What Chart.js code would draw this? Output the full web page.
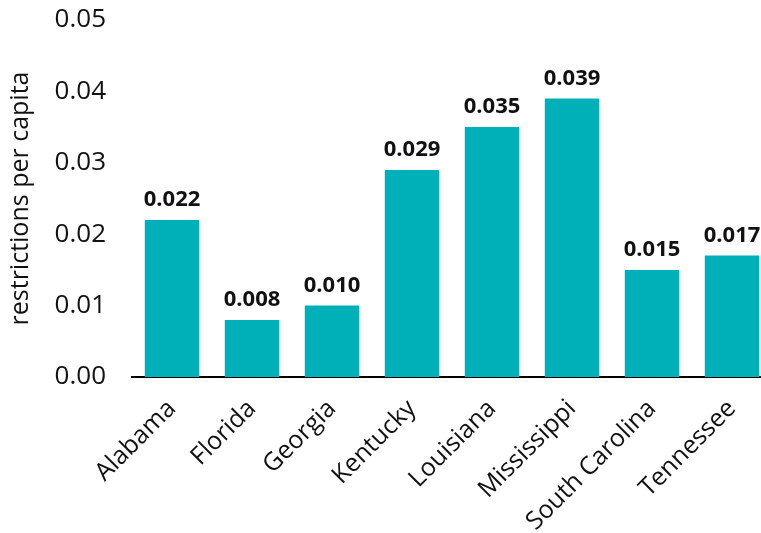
<!DOCTYPE html>
<html>
<head>
<meta charset="utf-8">
<script src="https://cdn.jsdelivr.net/npm/chart.js@4"></script>
<style>
  html, body { margin: 0; padding: 0; background: #fff; overflow: hidden; }
  #wrap { position: relative; width: 772px; height: 533px; }
</style>
</head>
<body>
<div id="wrap"><canvas id="restr"></canvas></div>
<script>
// data
var states = ['Alabama', 'Florida', 'Georgia', 'Kentucky', 'Louisiana', 'Mississippi', 'South Carolina', 'Tennessee'];
var perCapita = [0.022, 0.008, 0.010, 0.029, 0.035, 0.039, 0.015, 0.017];
var yTicks = [0, 0.01, 0.02, 0.03, 0.04, 0.05];
var yTitle = 'restrictions per capita';

var FONT = "'Open Sans', sans-serif";

// value labels on top of the bars
var barLabels = {
  id: 'barLabels',
  afterDatasetsDraw: function (chart) {
    var ctx = chart.ctx;
    var meta = chart.getDatasetMeta(0);
    ctx.save();
    ctx.font = 'bold 22px ' + FONT;
    ctx.fillStyle = '#111';
    ctx.textAlign = 'center';
    ctx.textBaseline = 'bottom';
    meta.data.forEach(function (bar, i) {
      ctx.fillText(perCapita[i].toFixed(3), bar.x, bar.y - 9);
    });
    ctx.restore();
  }
};

var el = document.getElementById('restr');
var chart = new Chart(el, {
  type: 'bar',
  data: {
    labels: states,
    datasets: [{
      data: perCapita,
      backgroundColor: '#00b0b9',
      categoryPercentage: 1,
      barPercentage: 0.68
    }]
  },
  plugins: [barLabels],
  options: {
    responsive: true,
    maintainAspectRatio: false,
    animation: false,
    layout: { padding: { top: 20, left: 6, right: 0, bottom: 0 } },
    plugins: {
      legend: { display: false },
      tooltip: { enabled: false }
    },
    scales: {
      x: {
        grid: { display: false },
        border: { display: true, color: '#000', width: 2 },
        ticks: {
          color: '#111',
          font: { family: FONT, size: 25 },
          minRotation: 45,
          maxRotation: 45,
          padding: 9
        },
        afterFit: function (s) {
          s.height = 156;
          s.paddingTop = 0;
        }
      },
      y: {
        min: 0,
        max: 0.05,
        grid: { display: false },
        border: { display: false },
        afterBuildTicks: function (s) {
          s.ticks = yTicks.map(function (v) { return { value: v }; });
        },
        ticks: {
          color: '#111',
          font: { family: FONT, size: 26 },
          padding: 18,
          callback: function (v) { return Number(v).toFixed(2); }
        },
        title: {
          display: true,
          text: yTitle,
          color: '#111',
          font: { family: FONT, size: 25 },
          padding: 0
        },
        afterFit: function (s) {
          s.width = 126;
          s.paddingTop = 0;
        }
      }
    }
  }
});
</script>
</body>
</html>
